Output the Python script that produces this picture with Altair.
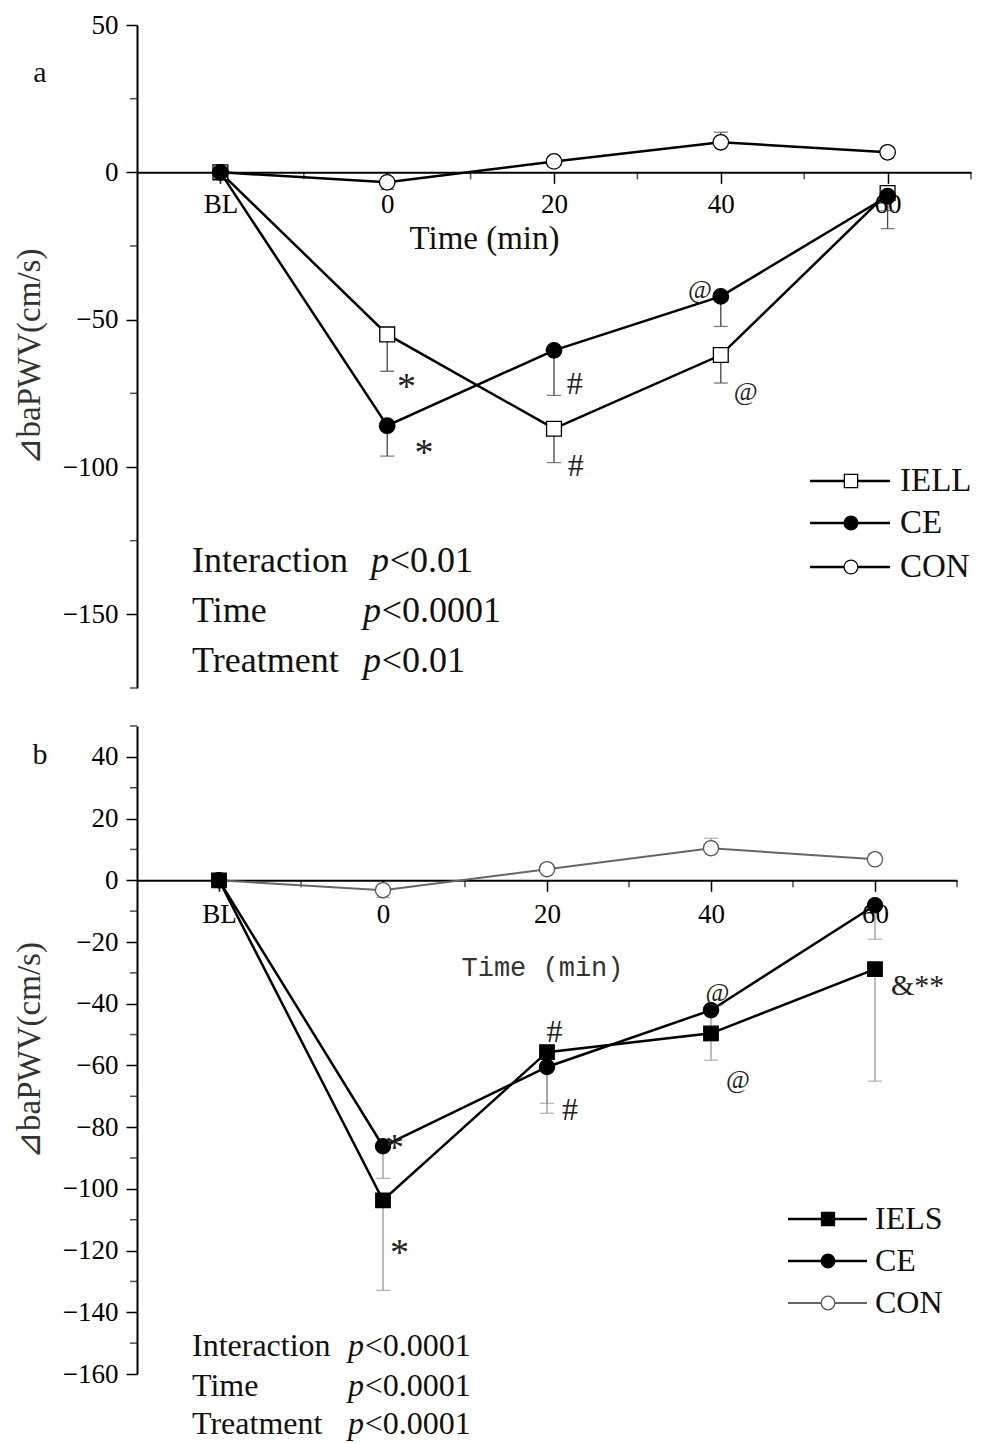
import altair as alt
import pandas as pd

FONT = "Liberation Serif"

TIME_LABELS = ["BL", "0", "20", "40", "60"]
TIME_X = [-20, 0, 20, 40, 60]
X_MINOR = [-10, 10, 30, 50, 70]

# ---------- Panel a ----------
A_SERIES = ["IELL", "CE", "CON"]
A_IELL = [0, -55.0, -87.0, -62.0, -7.0]
A_IELL_SD = [0, 12.5, 11.5, 9.5, 6.0]
A_CE = [0, -86.0, -60.4, -42.1, -8.1]
A_CE_SD = [0, 10.3, 15.3, 10.2, 11.0]
A_CON = [0, -3.4, 3.7, 10.2, 6.8]
A_CON_SD = [0, 2.4, 1.5, 3.4, 1.4]
A_Y_TICKS = [50, 0, -50, -100, -150]
A_Y_MINOR = [25, -25, -75, -125, -175]
STAT_LABELS = ["Interaction", "Time", "Treatment"]
A_PVALS = ["<0.01", "<0.0001", "<0.01"]
A_ANNOT_TEXT = ["*", "*", "#", "#", "@", "@"]
A_ANNOT_X = [2.3, 4.4, 22.5, 22.6, 37.5, 43.0]
A_ANNOT_Y = [-70.0, -92.6, -72.0, -99.8, -40.0, -74.5]

# ---------- Panel b ----------
B_SERIES = ["IELS", "CE", "CON"]
B_IELS = [0, -103.7, -55.7, -49.6, -28.8]
B_IELS_SD = [0, 29.2, 16.6, 8.7, 36.3]
B_CE = [0, -86.2, -60.5, -42.1, -8.1]
B_CE_SD = [0, 10.4, 15.0, 10.0, 11.0]
B_CON = [0, -3.2, 3.6, 10.4, 6.8]
B_CON_SD = [0, 2.4, 1.5, 3.2, 1.9]
B_Y_TICKS = [40, 20, 0, -20, -40, -60, -80, -100, -120, -140, -160]
B_Y_MINOR = [50, 30, 10, -10, -30, -50, -70, -90, -110, -130, -150]
B_PVALS = ["<0.0001", "<0.0001", "<0.0001"]
B_ANNOT_TEXT = ["*", "*", "#", "#", "@", "@", "&**"]
B_ANNOT_X = [1.4, 2.0, 20.9, 22.8, 40.8, 43.3, 65.2]
B_ANNOT_Y = [-84.3, -118.3, -49.3, -74.5, -36.6, -64.8, -33.4]

# symbol styles: (font size, dy)
ANNOT_STYLE = {"*": (38, 9), "#": (32, 0), "@": (26, 0), "&**": (30, 3)}

label_expr = "".join(
    f"datum.value == {v} ? '{l}' : " for v, l in zip(TIME_X, TIME_LABELS)
) + "datum.label"


def long_df(names, means, sds):
    rows = []
    for n, m, s in zip(names, means, sds):
        for x, mv, sv in zip(TIME_X, m, s):
            end = mv - sv if mv < 0 else mv + sv
            rows.append({"series": n, "x": x, "mean": mv, "sd": sv, "end": end})
    return pd.DataFrame(rows)


def panel(cfg):
    W, H = cfg["width"], cfg["height"]
    ylo, yhi = cfg["ydomain"]
    y0px = H * yhi / (yhi - ylo)
    xs = alt.Scale(domain=[-30, 70], nice=False, zero=False)
    ys = alt.Scale(domain=[ylo, yhi], nice=False, zero=False)
    xaxis = alt.Axis(
        values=TIME_X, labelExpr=label_expr, offset=-(H - y0px),
        tickSize=11, tickWidth=1.5, tickColor="black",
        domainColor="black", domainWidth=2,
        labelFont=FONT, labelFontSize=27, labelColor="black",
        labelPadding=cfg["xlabpad"], labelFlush=False, labelOverlap=False,
        grid=False, title="Time (min)", titleFont=cfg["xtitle_font"],
        titleFontSize=cfg["xtitle_size"], titleFontWeight="normal",
        titleColor=cfg["xtitle_color"], titleX=cfg["xtitle_x"],
        titleY=cfg["xtitle_y"], titleAlign="center", titleBaseline="middle",
    )
    yaxis = alt.Axis(
        values=cfg["yticks"], tickSize=11, tickWidth=1.5, tickColor="black",
        domainColor="black", domainWidth=2,
        labelFont=FONT, labelFontSize=27, labelColor="black", labelPadding=8,
        grid=False, title="⊿baPWV(cm/s)", titleFont=FONT, titleFontSize=33,
        titleFontWeight="normal", titleColor="#333333", titlePadding=16,
    )

    def X(f):
        return alt.X(f, type="quantitative", scale=xs, axis=xaxis)

    def Y(f):
        return alt.Y(f, type="quantitative", scale=ys, axis=yaxis)

    df = cfg["df"]
    layers = []

    # minor ticks
    layers.append(
        alt.Chart(pd.DataFrame({"v": cfg["yminor"]}))
        .mark_tick(orient="horizontal", size=7, thickness=1.5, xOffset=-3.5, color="black")
        .encode(x=alt.value(0), y=Y("v"))
    )
    layers.append(
        alt.Chart(pd.DataFrame({"v": X_MINOR}))
        .mark_tick(orient="vertical", size=7, thickness=1.5, yOffset=3.5, color="black")
        .encode(x=X("v"), y=alt.datum(0, scale=ys))
    )

    # error bars
    err = df[df["sd"] > 0]
    layers.append(
        alt.Chart(err).mark_rule(color=cfg["err_color"], strokeWidth=1.3)
        .encode(x=X("x"), y=Y("mean"), y2="end")
    )
    layers.append(
        alt.Chart(err).mark_tick(orient="horizontal", size=14, thickness=1.3, color=cfg["err_color"])
        .encode(x=X("x"), y=Y("end"))
    )

    # lines
    for s in cfg["order"]:
        st = cfg["styles"][s]
        layers.append(
            alt.Chart(df[df["series"] == s])
            .mark_line(color=st["line"], strokeWidth=st["lw"])
            .encode(x=X("x"), y=Y("mean"))
        )
    # markers
    for s in cfg["order"]:
        st = cfg["styles"][s]
        layers.append(
            alt.Chart(df[df["series"] == s])
            .mark_point(shape=st["shape"], filled=True, fill=st["fill"], stroke=st["stroke"],
                        strokeWidth=1.3, size=st["size"], opacity=1)
            .encode(x=X("x"), y=Y("mean"))
        )

    # annotations
    ann = pd.DataFrame({"t": cfg["ann_text"], "x": cfg["ann_x"], "y": cfg["ann_y"]})
    for sym, (fs, dy) in ANNOT_STYLE.items():
        sub = ann[ann["t"] == sym]
        if len(sub) == 0:
            continue
        layers.append(
            alt.Chart(sub).mark_text(font=FONT, fontSize=fs, dy=dy, color=cfg["ann_color"],
                                     align="center", baseline="middle")
            .encode(x=X("x"), y=Y("y"), text="t:N")
        )

    # statistics text
    for i, (lab, pv) in enumerate(zip(STAT_LABELS, cfg["pvals"])):
        yy = cfg["stat_y"][i]
        px = cfg["stat_px"][i]
        fs = cfg["stat_size"]
        layers.append(
            alt.Chart(pd.DataFrame({"t": [lab]})).mark_text(
                font=FONT, fontSize=fs, align="left", baseline="middle", color="#111111")
            .encode(x=alt.value(cfg["stat_x"]), y=alt.value(yy), text="t:N")
        )
        layers.append(
            alt.Chart(pd.DataFrame({"t": ["p"]})).mark_text(
                font=FONT, fontSize=fs, fontStyle="italic", align="left", baseline="middle",
                color="#111111")
            .encode(x=alt.value(px), y=alt.value(yy), text="t:N")
        )
        layers.append(
            alt.Chart(pd.DataFrame({"t": [pv]})).mark_text(
                font=FONT, fontSize=fs, align="left", baseline="middle", color="#111111")
            .encode(x=alt.value(px + 0.52 * fs), y=alt.value(yy), text="t:N")
        )

    # custom legend
    lx0, lx1, lmx, ltx = cfg["leg_x"]
    for i, s in enumerate(cfg["legend"]):
        st = cfg["styles"][s]
        yy = cfg["leg_y"][i]
        layers.append(
            alt.Chart(pd.DataFrame({"t": [s]})).mark_rule(color=st["line"], strokeWidth=st["lw"])
            .encode(x=alt.value(lx0), x2=alt.value(lx1), y=alt.value(yy))
        )
        layers.append(
            alt.Chart(pd.DataFrame({"t": [s]}))
            .mark_point(shape=st["shape"], filled=True, fill=st["fill"], stroke=st["stroke"],
                        strokeWidth=1.3, size=st["size"] * 0.8, opacity=1)
            .encode(x=alt.value(lmx), y=alt.value(yy))
        )
        layers.append(
            alt.Chart(pd.DataFrame({"t": [s]})).mark_text(
                font=FONT, fontSize=cfg["leg_size"], align="left", baseline="middle",
                color="#111111")
            .encode(x=alt.value(ltx), y=alt.value(yy), text="t:N")
        )

    # panel label
    layers.append(
        alt.Chart(pd.DataFrame({"t": [cfg["label"]]})).mark_text(
            font=FONT, fontSize=30, align="center", baseline="middle", color="#111111")
        .encode(x=alt.value(cfg["label_pos"][0]), y=alt.value(cfg["label_pos"][1]), text="t:N")
    )

    return alt.layer(*layers).properties(width=W, height=H)


STYLE_A = {
    "IELL": dict(shape="square", fill="white", stroke="black", line="black", lw=2.5, size=220),
    "CE": dict(shape="circle", fill="black", stroke="black", line="black", lw=2.5, size=240),
    "CON": dict(shape="circle", fill="white", stroke="black", line="black", lw=2.5, size=240),
}
STYLE_B = {
    "IELS": dict(shape="square", fill="black", stroke="black", line="black", lw=2.5, size=210),
    "CE": dict(shape="circle", fill="black", stroke="black", line="black", lw=2.5, size=230),
    "CON": dict(shape="circle", fill="white", stroke="#555555", line="#666666", lw=2.0, size=230),
}

cfg_a = dict(
    width=834, height=663, ydomain=(-175, 50), yticks=A_Y_TICKS, yminor=A_Y_MINOR,
    df=long_df(A_SERIES, [A_IELL, A_CE, A_CON], [A_IELL_SD, A_CE_SD, A_CON_SD]),
    styles=STYLE_A, order=["CON", "IELL", "CE"], legend=A_SERIES,
    err_color="#444444", xlabpad=8,
    xtitle_font=FONT, xtitle_size=33, xtitle_color="#111111", xtitle_x=347, xtitle_y=66,
    ann_text=A_ANNOT_TEXT, ann_x=A_ANNOT_X, ann_y=A_ANNOT_Y, ann_color="#222222",
    pvals=A_PVALS, stat_y=[536, 586, 636], stat_x=55, stat_px=[234, 226, 226], stat_size=36,
    leg_x=(673, 753, 714, 763), leg_y=[456, 498, 542], leg_size=33,
    label="a", label_pos=(-97, 48),
)
cfg_b = dict(
    width=820, height=648, ydomain=(-160, 50), yticks=B_Y_TICKS, yminor=B_Y_MINOR,
    df=long_df(B_SERIES, [B_IELS, B_CE, B_CON], [B_IELS_SD, B_CE_SD, B_CON_SD]),
    styles=STYLE_B, order=["CON", "CE", "IELS"], legend=B_SERIES,
    err_color="#999999", xlabpad=10,
    xtitle_font="Liberation Mono", xtitle_size=27, xtitle_color="#333333",
    xtitle_x=405, xtitle_y=87,
    ann_text=B_ANNOT_TEXT, ann_x=B_ANNOT_X, ann_y=B_ANNOT_Y, ann_color="#222222",
    pvals=B_PVALS, stat_y=[620, 660, 698], stat_x=55, stat_px=[211, 211, 211], stat_size=32,
    leg_x=(651, 730, 691, 738), leg_y=[493, 535, 577], leg_size=32,
    label="b", label_pos=(-97, 29),
)

chart = (
    alt.vconcat(panel(cfg_a), panel(cfg_b), spacing=36)
    .properties(padding={"left": 5, "top": 3, "right": 0, "bottom": 4}, background="white")
    .configure_view(stroke=None)
)

chart.save("out.html", embed_options={"renderer": "svg", "actions": False})
